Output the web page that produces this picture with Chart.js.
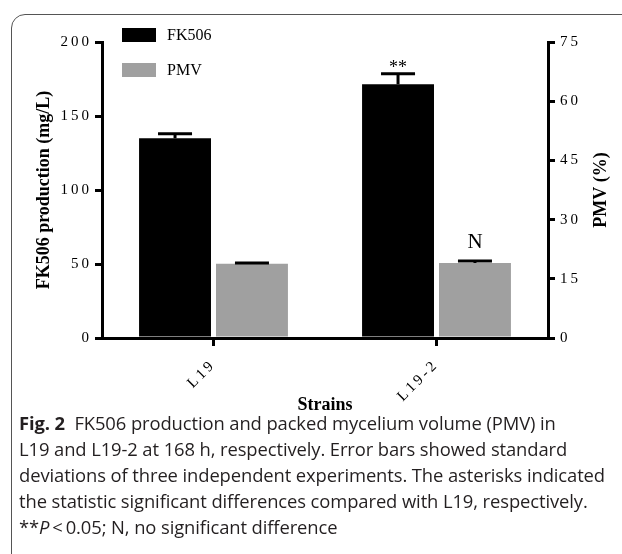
<!DOCTYPE html>
<html>
<head>
<meta charset="utf-8">
<script src="https://cdn.jsdelivr.net/npm/chart.js@4.4.1/dist/chart.umd.min.js"></script>
<style>
  html, body { margin: 0; padding: 0; width: 622px; height: 554px; overflow: hidden; background: #fff; }
  .marco { position: absolute; left: 11px; top: 14px; width: 720px; height: 720px; border: 1px solid #555; border-radius: 14px; }
  .grafico { position: absolute; left: 0; top: 0; }
  .leyenda { position: absolute; left: 19px; top: 410px; font-family: "Open Sans"; font-size: 18.4px; line-height: 26px; letter-spacing: -0.1px; color: #231f20; white-space: nowrap; }
</style>
</head>
<body>
<div class="marco"></div>
<canvas id="produccionPMV" class="grafico" width="622" height="420"></canvas>
<div class="leyenda">
  <div><b>Fig. 2</b>&nbsp; FK506 production and packed mycelium volume (PMV) in</div>
  <div>L19 and L19-2 at 168 h, respectively. Error bars showed standard</div>
  <div>deviations of three independent experiments. The asterisks indicated</div>
  <div>the statistic significant differences compared with L19, respectively.</div>
  <div>**<i>P</i>&thinsp;&lt;&thinsp;0.05; N, no significant difference</div>
</div>
<script>
// DATOS
const cepas = ['L19', 'L19-2'];
const produccionFK506 = [135, 171.5];
const desvioFK506 = [3, 7];
const volumenPMV = [18.8, 19.0];
const desvioPMV = [0.2, 0.5];
const marcasFK506 = ['', '**'];
const marcasPMV = ['', 'N'];
const ticksProduccion = [0, 50, 100, 150, 200];
const ticksPMV = [0, 15, 30, 45, 60, 75];

const serif = 'Liberation Serif';

// Barras de error y marcas de significancia sobre cada barra
const barrasError = {
    id: 'barrasError',
    afterDatasetsDraw(chart) {
        const ctx = chart.ctx;
        const desvios = [desvioFK506, desvioPMV];
        const marcas = [marcasFK506, marcasPMV];
        const separacion = [1, 13];
        const tamanios = [18, 21];
        chart.data.datasets.forEach((dataset, i) => {
            const meta = chart.getDatasetMeta(i);
            const escala = chart.scales[dataset.yAxisID];
            meta.data.forEach((barra, j) => {
                const tope = escala.getPixelForValue(dataset.data[j] + desvios[i][j]);
                ctx.save();
                ctx.strokeStyle = 'black';
                ctx.lineWidth = 3;
                ctx.beginPath();
                ctx.moveTo(barra.x, barra.y);
                ctx.lineTo(barra.x, tope);
                ctx.moveTo(barra.x - 17, tope);
                ctx.lineTo(barra.x + 17, tope);
                ctx.stroke();
                if (marcas[i][j]) {
                    ctx.fillStyle = 'black';
                    ctx.font = tamanios[i] + 'px "' + serif + '"';
                    ctx.textAlign = 'center';
                    ctx.textBaseline = 'alphabetic';
                    ctx.fillText(marcas[i][j], barra.x, tope - separacion[i]);
                }
                ctx.restore();
            });
        });
    }
};

// Leyenda dentro del area del grafico
const leyendaInterna = {
    id: 'leyendaInterna',
    afterDraw(chart) {
        const ctx = chart.ctx;
        ctx.save();
        chart.data.datasets.forEach((dataset, i) => {
            const y = 28 + i * 35;
            ctx.fillStyle = dataset.backgroundColor;
            ctx.fillRect(122, y, 34, 14);
            ctx.fillStyle = 'black';
            ctx.font = '16px "' + serif + '"';
            ctx.textBaseline = 'middle';
            ctx.fillText(dataset.label, 167, y + 8);
        });
        ctx.restore();
    }
};

// Titulo del eje derecho, leido de abajo hacia arriba
const tituloDerecho = {
    id: 'tituloDerecho',
    afterDraw(chart) {
        const ctx = chart.ctx;
        const area = chart.chartArea;
        ctx.save();
        ctx.translate(601, (area.top + area.bottom) / 2);
        ctx.rotate(-Math.PI / 2);
        ctx.fillStyle = 'black';
        ctx.font = 'bold 18px "' + serif + '"';
        ctx.textAlign = 'center';
        ctx.textBaseline = 'middle';
        ctx.fillText('PMV (%)', 0, 0);
        ctx.restore();
    }
};

// Etiquetas de los ejes con los digitos separados
const espaciadoTicks = {
    id: 'espaciadoTicks',
    afterLayout(chart) {
        Object.values(chart.scales).forEach(escala => {
            if (escala._conEspaciado) return;
            const original = escala.drawLabels;
            escala.drawLabels = function (area) {
                this.ctx.save();
                this.ctx.letterSpacing = '3px';
                original.call(this, area);
                this.ctx.restore();
            };
            escala._conEspaciado = true;
        });
    }
};

const ejeNegro = {
    grid: { display: true, drawOnChartArea: false, tickLength: 7, lineWidth: 3, color: 'black' },
    border: { display: true, width: 3, color: 'black' }
};

const graficoProduccion = document.getElementById('produccionPMV').getContext('2d');

const produccionChart = new Chart(graficoProduccion, {
    type: 'bar',
    data: {
        labels: cepas,
        datasets: [
            {
                label: 'FK506',
                data: produccionFK506,
                backgroundColor: '#000000',
                yAxisID: 'y',
                categoryPercentage: 0.69,
                barPercentage: 0.935
            },
            {
                label: 'PMV',
                data: volumenPMV,
                backgroundColor: '#a0a0a0',
                yAxisID: 'y1',
                categoryPercentage: 0.69,
                barPercentage: 0.935
            }
        ]
    },
    options: {
        responsive: false,
        animation: false,
        layout: { padding: { top: 42, left: 0, right: 0, bottom: 0 } },
        plugins: {
            legend: { display: false },
            tooltip: { enabled: false }
        },
        scales: {
            x: {
                grid: { ...ejeNegro.grid, offset: false, tickLength: 8 },
                border: ejeNegro.border,
                ticks: {
                    minRotation: 45,
                    maxRotation: 45,
                    padding: 10,
                    color: 'black',
                    font: { family: serif, size: 15 }
                },
                title: {
                    display: true,
                    text: 'Strains',
                    color: 'black',
                    font: { family: serif, size: 18, weight: 'bold' },
                    padding: { top: 0, bottom: 4 }
                },
                afterFit: escala => { escala.height = 82; }
            },
            y: {
                position: 'left',
                min: 0,
                max: 200,
                grid: ejeNegro.grid,
                border: ejeNegro.border,
                afterBuildTicks: escala => { escala.ticks = ticksProduccion.map(v => ({ value: v })); },
                ticks: {
                    padding: 3,
                    color: 'black',
                    font: { family: serif, size: 15 }
                },
                title: {
                    display: true,
                    text: 'FK506 production (mg/L)',
                    color: 'black',
                    font: { family: serif, size: 18, weight: 'bold' },
                    padding: { top: 34, bottom: 0 }
                },
                afterFit: escala => { escala.width = 102; }
            },
            y1: {
                position: 'right',
                min: 0,
                max: 75,
                grid: ejeNegro.grid,
                border: ejeNegro.border,
                afterBuildTicks: escala => { escala.ticks = ticksPMV.map(v => ({ value: v })); },
                ticks: {
                    padding: 5,
                    color: 'black',
                    font: { family: serif, size: 15 }
                },
                afterFit: escala => { escala.width = 74; }
            }
        }
    },
    plugins: [espaciadoTicks, barrasError, leyendaInterna, tituloDerecho]
});
</script>
</body>
</html>
